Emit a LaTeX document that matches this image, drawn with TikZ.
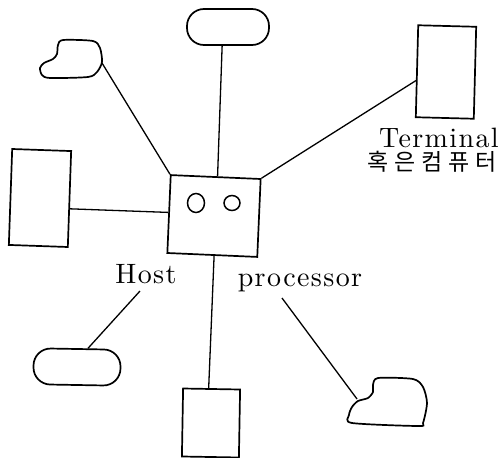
\documentclass[tikz,border=0pt]{standalone}
\usepackage{fontspec}
\newfontfamily\kor{Noto Sans CJK KR}[LetterSpace=25]
\newfontfamily\lbf{lmroman10-regular.otf}[LetterSpace=5]
\usetikzlibrary{calc}
\tikzset{
  shp/.style={draw, line width=1.7pt, inner sep=0pt},
  rect/.style={shp, rectangle},
  pill/.style={shp, rectangle, rounded corners=17pt},
  wire/.style={line width=1.3pt},
  lbl/.style={inner sep=0pt, font=\lbf\fontsize{28}{32}\selectfont},
  klbl/.style={inner sep=0pt, font=\kor\fontsize{23}{26}\selectfont},
}
\begin{document}
\begin{tikzpicture}[x=1pt,y=-1pt]
\useasboundingbox (0,0) rectangle (499,458);
% hub
\node[rect, minimum width=90pt, minimum height=78pt, rotate=-2.5] (hub) at (214,216) {};
\draw[line width=1.5pt] (196,203) ellipse [x radius=8.5pt, y radius=9.5pt];
\draw[line width=1.5pt] (232,203) ellipse [x radius=8pt, y radius=7.5pt];
% peripherals
\node[pill, minimum width=82pt, minimum height=36pt] (tp) at (228,27) {};
\node[rect, minimum width=59pt, minimum height=96pt, rotate=-2] (lr) at (40,198) {};
\node[rect, minimum width=58pt, minimum height=92pt, rotate=-1.5] (rr) at (446,72) {};
\node[rect, minimum width=57pt, minimum height=68pt, rotate=-1] (br) at (211,423) {};
\node[pill, minimum width=87pt, minimum height=36pt, rotate=-1] (bl) at (77,367) {};
% clouds
\draw[line width=1.7pt] plot[smooth cycle, tension=0.45] coordinates
  {(58,45) (63,40) (93,41) (100,48) (102,62) (97,72) (88,77) (50,78) (42,75) (40,68) (44,63) (53,59) (57,54)};
\coordinate (c1) at (102,63);
\draw[line width=1.7pt] plot[smooth cycle, tension=0.45] coordinates
  {(373,385) (378,378) (413,379) (423,387) (427,403) (423,423) (418,426) (352,423) (349,415) (352,407) (358,401) (368,398) (373,392)};
\coordinate (c2) at (357,399);
% labels
\node[lbl] (host) at (146,274) {Host};
\node[lbl] (proc) at (300,283) {processor};
\node[lbl] (term) at (439,138) {Terminal};
\node[klbl] (kor) at (432,162) {혹은컴퓨터};
\coordinate (h1) at (140,291);
\coordinate (p1) at (282,298);
% connectors
\draw[wire] ($(tp.south west)!0.43!(tp.south east)$) -- ($(hub.north west)!0.52!(hub.north east)$);
\draw[wire] (c1) -- (hub.north west);
\draw[wire] ($(lr.north east)!0.6!(lr.south east)$) -- ($(hub.north west)!0.48!(hub.south west)$);
\draw[wire] ($(rr.north west)!0.6!(rr.south west)$) -- (hub.north east);
\draw[wire] ($(hub.south west)!0.52!(hub.south east)$) -- ($(br.north west)!0.45!(br.north east)$);
\draw[wire] (h1) -- ($(bl.north west)!0.62!(bl.north east)$);
\draw[wire] (p1) -- (c2);
\end{tikzpicture}
\end{document}
